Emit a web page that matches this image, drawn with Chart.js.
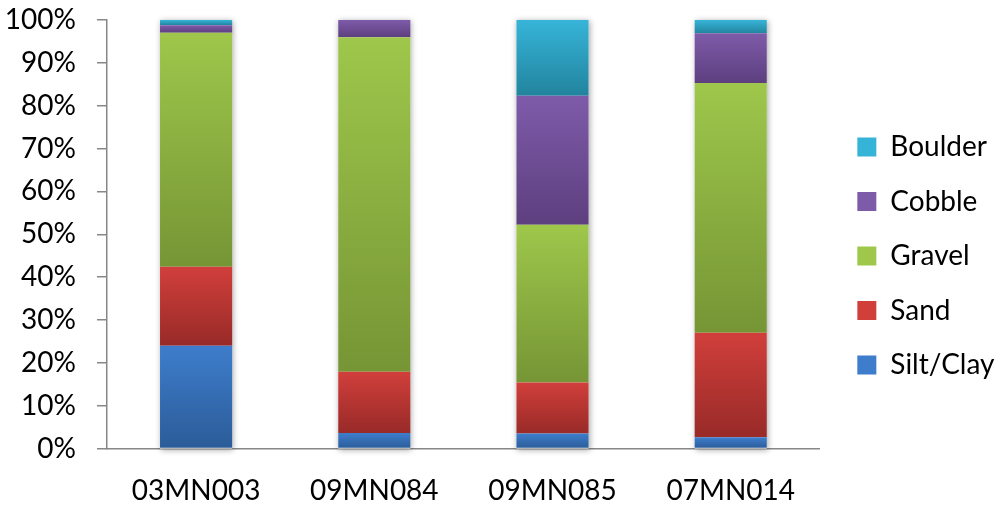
<!DOCTYPE html>
<html>
<head>
<meta charset="utf-8">
<script src="https://cdn.jsdelivr.net/npm/chart.js@4/dist/chart.umd.min.js"></script>
<style>
  html, body { margin: 0; padding: 0; background: #ffffff; }
  #wrap { width: 998px; height: 506px; }
</style>
</head>
<body>
<div id="wrap"><canvas id="c" width="998" height="506"></canvas></div>
<script>
const categories = ['03MN003', '09MN084', '09MN085', '07MN014'];
const siltClay = [24.0, 3.6, 3.5, 2.6];
const sand     = [18.4, 14.3, 11.9, 24.4];
const gravel   = [54.6, 78.1, 36.8, 58.3];
const cobble   = [1.8, 4.0, 30.1, 11.6];
const boulder  = [1.2, 0.0, 17.7, 3.1];
const yTicks = [0, 10, 20, 30, 40, 50, 60, 70, 80, 90, 100];

const seriesNames = ['Silt/Clay', 'Sand', 'Gravel', 'Cobble', 'Boulder'];
const seriesValues = [siltClay, sand, gravel, cobble, boulder];
const seriesColors = [
  ['#3e7dcc', '#2b5c98'],
  ['#d13f3b', '#982a28'],
  ['#9ec74b', '#769535'],
  ['#7e5ba9', '#5d3f7f'],
  ['#36b4d8', '#22849e']
];

const FONT = 'Lato, "Open Sans", sans-serif';

function gradientBetween(ctx, cols, yt, yb) {
  const g = ctx.createLinearGradient(0, yt, 0, yb);
  g.addColorStop(0, cols[0]);
  g.addColorStop(1, cols[1]);
  return g;
}

function gradientFor(dsIndex) {
  return function (c) {
    const chart = c.chart;
    const area = chart.chartArea;
    const cols = seriesColors[dsIndex];
    if (!area || c.type !== 'data') return cols[0];
    const y = chart.scales.y;
    let below = 0;
    for (let k = 0; k < dsIndex; k++) below += seriesValues[k][c.dataIndex];
    const v = seriesValues[dsIndex][c.dataIndex];
    const yt = y.getPixelForValue(below + v);
    const yb = y.getPixelForValue(below);
    if (!isFinite(yt) || !isFinite(yb) || yb - yt < 0.5) return cols[0];
    return gradientBetween(chart.ctx, cols, yt, yb);
  };
}

const datasets = seriesNames.map((name, i) => ({
  label: name,
  data: seriesValues[i],
  backgroundColor: gradientFor(i),
  borderWidth: 0,
  categoryPercentage: 0.5,
  barPercentage: 0.81,
  yAxisID: 'y'
}));

const shadowPlugin = {
  id: 'stackShadow',
  beforeDatasetsDraw(chart) {
    const ctx = chart.ctx;
    const first = chart.getDatasetMeta(0);
    const y = chart.scales.y;
    ctx.save();
    ctx.shadowColor = 'rgba(0,0,0,0.35)';
    ctx.shadowBlur = 6;
    ctx.shadowOffsetX = 1;
    ctx.shadowOffsetY = 1;
    ctx.fillStyle = '#ffffff';
    first.data.forEach((el, i) => {
      let total = 0;
      seriesValues.forEach(s => total += s[i]);
      const top = y.getPixelForValue(total);
      const bot = y.getPixelForValue(0);
      const w = el.width;
      ctx.fillRect(el.x - w / 2, top, w, bot - top);
    });
    ctx.restore();
  }
};

new Chart(document.getElementById('c'), {
  type: 'bar',
  data: { labels: categories, datasets: datasets },
  plugins: [shadowPlugin],
  options: {
    responsive: false,
    devicePixelRatio: 1,
    animation: false,
    layout: { padding: { top: 6, left: 5, right: 2, bottom: 0 } },
    plugins: {
      tooltip: { enabled: false },
      legend: {
        position: 'right',
        reverse: true,
        labels: {
          boxWidth: 19,
          boxHeight: 19,
          padding: 26.5,
          color: '#000000',
          font: { family: FONT, size: 28 },
          generateLabels(chart) {
            return chart.data.datasets.map((ds, i) => ({
              text: ds.label,
              fillStyle: seriesColors[i][0],
              strokeStyle: seriesColors[i][1],
              lineWidth: 0,
              hidden: false,
              datasetIndex: i,
              fontColor: '#000000'
            }));
          }
        }
      }
    },
    scales: {
      x: {
        stacked: true,
        grid: { display: false, drawTicks: false },
        border: { display: true, color: '#878787', width: 1.5 },
        ticks: {
          color: '#000000',
          padding: 28,
          font: { family: FONT, size: 28, lineHeight: 1 }
        },
        afterFit(axis) { axis.height = 57.5; }
      },
      y: {
        stacked: true,
        min: 0,
        max: 100,
        afterBuildTicks(axis) { axis.ticks = yTicks.map(v => ({ value: v })); },
        grid: { drawOnChartArea: false, drawTicks: true, tickLength: 10, color: '#878787', lineWidth: 1.5 },
        border: { display: true, color: '#878787', width: 1.5 },
        ticks: {
          color: '#000000',
          padding: 21,
          font: { family: FONT, size: 28 },
          callback: v => v + '%'
        },
        afterFit(axis) {
          axis.width = 102;
          axis.paddingTop = 20;
          axis.paddingBottom = 0;
        }
      },
      y2: {
        position: 'right',
        display: true,
        min: 0,
        max: 100,
        grid: { display: false, drawTicks: false },
        border: { display: false },
        ticks: { display: false },
        afterFit(axis) { axis.width = 11; }
      }
    }
  }
});
</script>
</body>
</html>
